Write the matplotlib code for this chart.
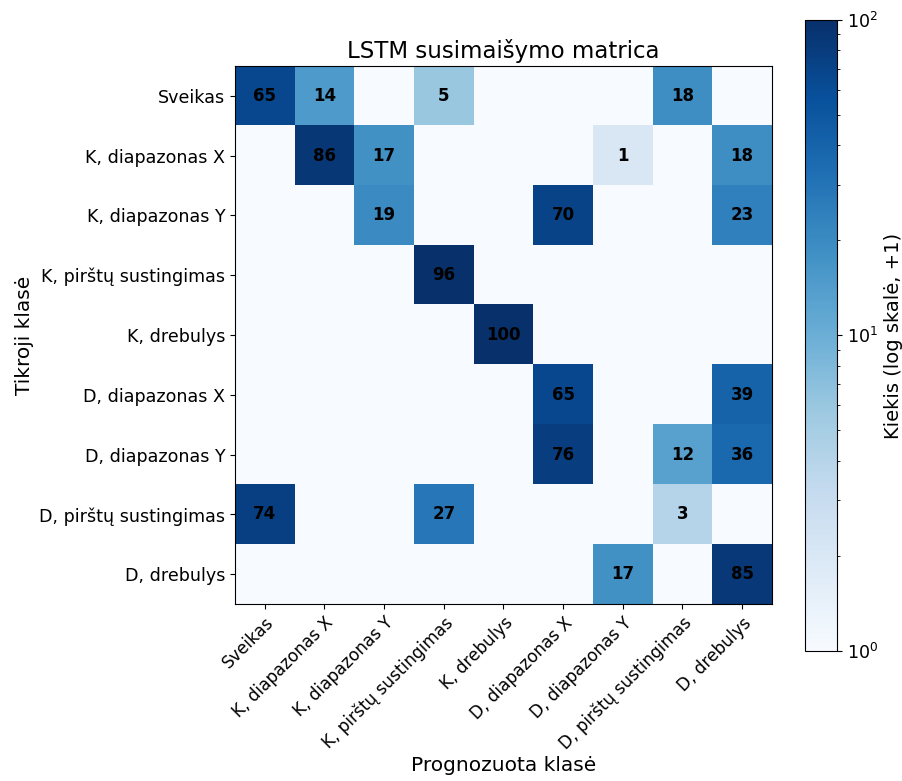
import numpy as np
import matplotlib
matplotlib.use("Agg")
import matplotlib.pyplot as plt
from matplotlib.colors import LogNorm

classes = [
    "Sveikas",
    "K, diapazonas X",
    "K, diapazonas Y",
    "K, pirštų sustingimas",
    "K, drebulys",
    "D, diapazonas X",
    "D, diapazonas Y",
    "D, pirštų sustingimas",
    "D, drebulys",
]

row_sveikas = [65, 14, 0, 5, 0, 0, 0, 18, 0]
row_k_x = [0, 86, 17, 0, 0, 0, 1, 0, 18]
row_k_y = [0, 0, 19, 0, 0, 70, 0, 0, 23]
row_k_pirstu = [0, 0, 0, 96, 0, 0, 0, 0, 0]
row_k_drebulys = [0, 0, 0, 0, 100, 0, 0, 0, 0]
row_d_x = [0, 0, 0, 0, 0, 65, 0, 0, 39]
row_d_y = [0, 0, 0, 0, 0, 76, 0, 12, 36]
row_d_pirstu = [74, 0, 0, 27, 0, 0, 0, 3, 0]
row_d_drebulys = [0, 0, 0, 0, 0, 0, 17, 0, 85]

cm = np.array([row_sveikas, row_k_x, row_k_y, row_k_pirstu, row_k_drebulys,
               row_d_x, row_d_y, row_d_pirstu, row_d_drebulys])

fig = plt.figure(figsize=(9.02, 7.81), dpi=100)
ax = fig.add_axes([0.2605, 0.2266, 0.5953, 0.6889])
cax = fig.add_axes([0.8925, 0.1665, 0.0355, 0.808])

im = ax.imshow(cm + 1, cmap="Blues", norm=LogNorm(vmin=1, vmax=100), aspect="auto")

n = len(classes)
for i in range(n):
    for j in range(n):
        if cm[i, j] > 0:
            ax.text(j, i, str(cm[i, j]), ha="center", va="center",
                    color="black", fontsize=12, fontweight="bold")

ax.set_xticks(range(n))
ax.set_yticks(range(n))
ax.set_xticklabels(classes, rotation=45, ha="right", rotation_mode="anchor", fontsize=12.2)
ax.set_yticklabels(classes, fontsize=12.6)
ax.set_title("LSTM susimaišymo matrica", fontsize=16.5)
ax.set_xlabel("Prognozuota klasė", fontsize=14.5)
ax.xaxis.set_label_coords(0.5, -0.283)
ax.set_ylabel("Tikroji klasė", fontsize=14.5)

cb = fig.colorbar(im, cax=cax)
cb.set_label("Kiekis (log skalė, +1)", fontsize=14)
cb.ax.tick_params(labelsize=12.6)

fig.savefig("out.png", dpi=100)
